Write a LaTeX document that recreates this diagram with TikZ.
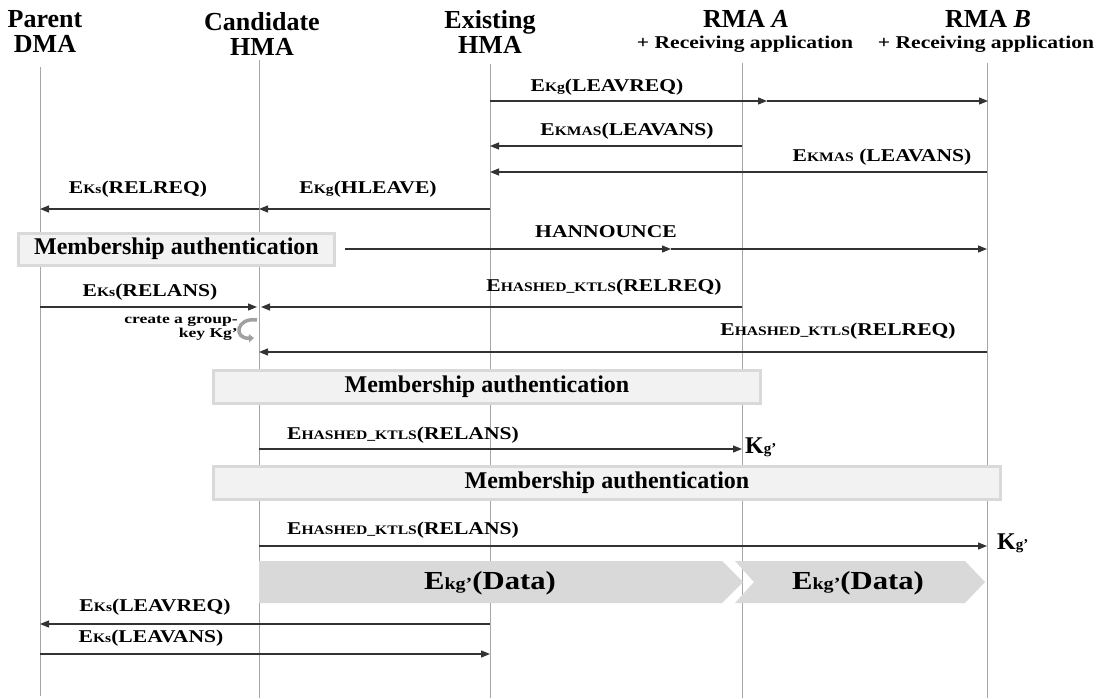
\documentclass[tikz,border=0pt]{standalone}
\usepackage{fontspec}
\setmainfont{Liberation Serif}
\usepackage{graphicx}
\usetikzlibrary{arrows.meta}

\definecolor{lifegray}{HTML}{A6A6A6}
\definecolor{msgdark}{HTML}{333333}
\definecolor{authfill}{HTML}{F2F2F2}
\definecolor{authedge}{HTML}{D9D9D9}
\definecolor{datafill}{HTML}{D9D9D9}
\definecolor{curlgray}{HTML}{A0A0A0}

% message labels are set slightly wide
\newcommand\wide[1]{\scalebox{1.2}[1]{#1}}
% encrypted payload: E, small key name, then the message
\newcommand\encl[2]{\wide{E{\fontsize{13}{13}\selectfont #1}#2}}
\newcommand\datatext{\scalebox{1.18}[1]{E{\fontsize{17}{17}\selectfont kg’}(Data)}}
\newcommand\newkey{K{\fontsize{15}{15}\selectfont g’}}

\begin{document}
\begin{tikzpicture}[x=1pt,y=-1pt,
  headtext/.style={font=\bfseries\fontsize{26}{25}\selectfont, align=center, inner sep=0pt},
  subhead/.style={font=\bfseries\fontsize{18}{18}\selectfont, inner sep=0pt},
  lifeline/.style={draw=lifegray, line width=1pt},
  msgline/.style={draw=msgdark, line width=1.2pt, -{Triangle[length=9pt,width=7pt]}},
  lbl/.style={font=\bfseries\fontsize{18}{18}\selectfont, inner sep=0pt},
  authbox/.style={draw=authedge, line width=3pt, fill=authfill, inner sep=0pt,
                  font=\bfseries\fontsize{24}{24}\selectfont},
  chevron/.style={fill=datafill},
  datalbl/.style={font=\bfseries\fontsize{26}{26}\selectfont, inner sep=0pt},
  keylbl/.style={font=\bfseries\fontsize{24}{24}\selectfont, inner sep=0pt, anchor=west},
  notetext/.style={font=\bfseries\fontsize{13.5}{14}\selectfont, align=right, inner sep=0pt, anchor=east},
  curlarrow/.style={draw=curlgray, line width=3.5pt, -{Triangle[length=5pt,width=8pt]}}
]
\fill[white] (0,0) rectangle (1099,698);
\useasboundingbox (0,0) rectangle (1099,698);

% ---- participants ----
\node[headtext] (hP) at (45,32) {Parent\\DMA};
\node[headtext] (hC) at (262,34) {Candidate\\HMA};
\node[headtext] (hE) at (490,32) {Existing\\HMA};
\node[headtext] (hA) at (746,19) {RMA \textit{A}};
\node[subhead] (hAs) at (745,44) {\wide{+ Receiving application}};
\node[headtext] (hB) at (988,19) {RMA \textit{B}};
\node[subhead] (hBs) at (986,44) {\wide{+ Receiving application}};

% ---- lifelines ----
\coordinate (pTop) at (40,67);  \coordinate (pBot) at (40,696);
\coordinate (cTop) at (259,60); \coordinate (cBot) at (259,698);
\coordinate (eTop) at (490,64); \coordinate (eBot) at (490,698);
\coordinate (aTop) at (742,63); \coordinate (aBot) at (742,698);
\coordinate (bTop) at (987,63); \coordinate (bBot) at (987,698);
\draw[lifeline] (pTop) -- (pBot);
\draw[lifeline] (cTop) -- (cBot);
\draw[lifeline] (eTop) -- (eBot);
\draw[lifeline] (aTop) -- (aBot);
\draw[lifeline] (bTop) -- (bBot);

% ---- leave request to the receivers ----
\coordinate (r1e) at (490,101); \coordinate (r1m) at (767,101); \coordinate (r1b) at (988,101);
\draw[msgline] (r1e) -- (r1m);
\draw[msgline] (r1m) -- (r1b);
\node[lbl] (l1) at (607,87) {\encl{Kg}{(LEAVREQ)}};

\coordinate (r2a) at (742,146); \coordinate (r2e) at (490,146);
\draw[msgline] (r2a) -- (r2e);
\node[lbl] (l2) at (627,131) {\encl{KMAS}{(LEAVANS)}};

\coordinate (r3b) at (987,172); \coordinate (r3e) at (490,172);
\draw[msgline] (r3b) -- (r3e);
\node[lbl] (l3) at (882,157) {\encl{KMAS}{ (LEAVANS)}};

% ---- hand-over to the candidate ----
\coordinate (r4e) at (490,209); \coordinate (r4c) at (259,209); \coordinate (r4p) at (40,209);
\draw[msgline] (r4e) -- (r4c);
\draw[msgline] (r4c) -- (r4p);
\node[lbl] (l4a) at (138,189) {\encl{Ks}{(RELREQ)}};
\node[lbl] (l4b) at (368,189) {\encl{Kg}{(HLEAVE)}};

% ---- first authentication and announcement ----
\node[authbox, minimum width=316pt, minimum height=32pt] (auth1) at (176.5,249) {Membership authentication};
\coordinate (r5m) at (671,249); \coordinate (r5b) at (987,249);
\draw[msgline] ([xshift=9pt]auth1.east) -- (r5m);
\draw[msgline] (r5m) -- (r5b);
\node[lbl] (l5) at (606,232) {\wide{HANNOUNCE}};

\coordinate (r6p) at (40,307); \coordinate (r6c) at (257,307);
\coordinate (r6a) at (742,307); \coordinate (r6cc) at (261,307);
\draw[msgline] (r6p) -- (r6c);
\draw[msgline] (r6a) -- (r6cc);
\node[lbl] (l6a) at (150,292) {\encl{Ks}{(RELANS)}};
\node[lbl] (l6b) at (604,287) {\encl{HASHED\_KTLS}{(RELREQ)}};

% ---- group key creation ----
\node[notetext] (gk) at (238,328) {\scalebox{1.3}[1]{create a group-}\\\scalebox{1.3}[1]{key Kg’}};
\coordinate (k1) at (257,320); \coordinate (k2) at (254,338);
\draw[curlarrow] (k1) .. controls (236,317) and (233,339) .. (k2);

\coordinate (r7b) at (987,352); \coordinate (r7c) at (259,352);
\draw[msgline] (r7b) -- (r7c);
\node[lbl] (l7) at (838,331) {\encl{HASHED\_KTLS}{(RELREQ)}};

% ---- key distribution to RMA A ----
\node[authbox, minimum width=547pt, minimum height=33pt] (auth2) at (487,387) {Membership authentication};
\coordinate (r9c) at (259,449); \coordinate (r9a) at (742,449);
\draw[msgline] (r9c) -- (r9a);
\node[lbl] (l9) at (403,435) {\encl{HASHED\_KTLS}{(RELANS)}};
\node[keylbl] (kA) at (745,447) {\newkey};

% ---- key distribution to RMA B ----
\node[authbox, minimum width=787pt, minimum height=33pt] (auth3) at (607,483) {Membership authentication};
\coordinate (r11c) at (259,546); \coordinate (r11b) at (987,546);
\draw[msgline] (r11c) -- (r11b);
\node[lbl] (l11) at (403,530) {\encl{HASHED\_KTLS}{(RELANS)}};
\node[keylbl] (kB) at (997,543) {\newkey};

% ---- group data ----
\fill[chevron] (259,561) -- (722,561) -- (743,582) -- (722,603) -- (259,603) -- cycle;
\fill[chevron] (735,561) -- (965,561) -- (985,582) -- (965,603) -- (735,603) -- (754,582) -- cycle;
\node[datalbl] (d1) at (490,583) {\datatext};
\node[datalbl] (d2) at (858,583) {\datatext};

% ---- leaving the parent ----
\coordinate (r13e) at (490,624); \coordinate (r13p) at (40,624);
\draw[msgline] (r13e) -- (r13p);
\node[lbl] (l13) at (155,607) {\encl{Ks}{(LEAVREQ)}};

\coordinate (r14p) at (40,654); \coordinate (r14e) at (490,654);
\draw[msgline] (r14p) -- (r14e);
\node[lbl] (l14) at (151,638) {\encl{Ks}{(LEAVANS)}};
\end{tikzpicture}
\end{document}
